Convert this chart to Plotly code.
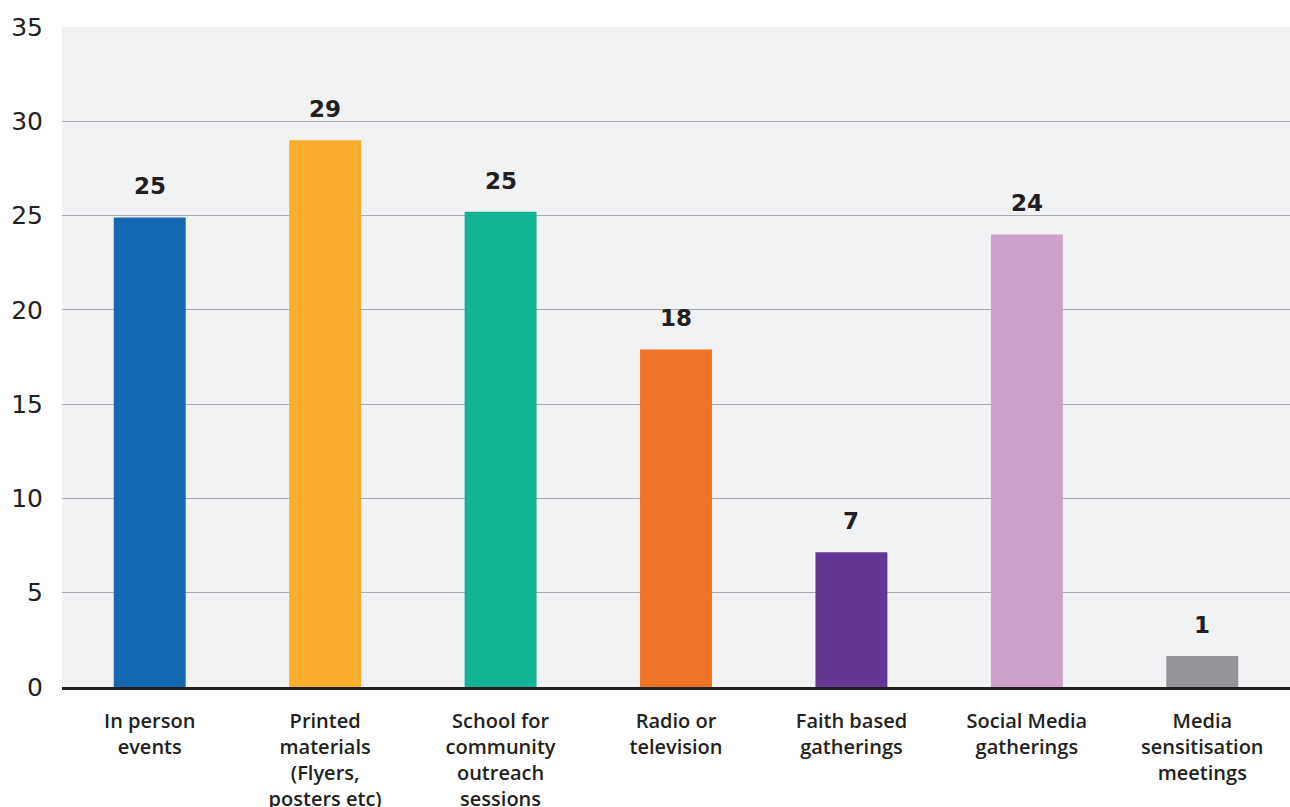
import plotly.graph_objects as go

categories = [
    "In person<br>events",
    "Printed<br>materials<br>(Flyers,<br>posters etc)",
    "School for<br>community<br>outreach<br>sessions",
    "Radio or<br>television",
    "Faith based<br>gatherings",
    "Social Media<br>gatherings",
    "Media<br>sensitisation<br>meetings",
]
# bar heights as drawn in the reference
bar_heights = [24.9, 29.0, 25.2, 17.9, 7.15, 24.0, 1.65]
# value labels printed above bars
value_labels = ["25", "29", "25", "18", "7", "24", "1"]
colors = ["#1569B3", "#FBAD2E", "#13B494", "#F07225", "#633894", "#CFA0C9", "#939598"]
y_ticks = [0, 5, 10, 15, 20, 25, 30, 35]

fig = go.Figure()
fig.add_trace(go.Bar(
    x=categories,
    y=bar_heights,
    marker=dict(color=colors, line=dict(width=0)),
    hoverinfo="skip",
))

for c, h, t in zip(categories, bar_heights, value_labels):
    fig.add_annotation(
        x=c, y=h, text=t, showarrow=False, yshift=31,
        font=dict(family="DejaVu Sans", size=23, color="#231F20", weight="bold"),
    )

fig.update_layout(
    width=1290, height=807,
    margin=dict(l=62, r=0, t=27, b=120),
    paper_bgcolor="white",
    plot_bgcolor="#F1F2F4",
    bargap=0.59,
    showlegend=False,
    xaxis=dict(
        type="category", automargin=False,
        showline=True, linecolor="#231F20", linewidth=2.5,
        showgrid=False, ticks="",
        ticklabelstandoff=14,
        tickfont=dict(family="Open Sans", size=20, color="#231F20", weight=600),
        fixedrange=True,
    ),
    yaxis=dict(
        range=[0, 35], tickvals=y_ticks, automargin=False,
        showgrid=True, gridcolor="#A7A9AC", gridwidth=1,
        zeroline=False, showline=False, ticks="",
        ticklabelstandoff=18,
        tickfont=dict(family="DejaVu Sans", size=25, color="#231F20"),
        fixedrange=True,
    ),
)

fig.write_html(
    "out.html",
    config={"responsive": False, "displayModeBar": False},
    post_script="document.body.style.margin='0';document.body.style.overflow='hidden';",
)
